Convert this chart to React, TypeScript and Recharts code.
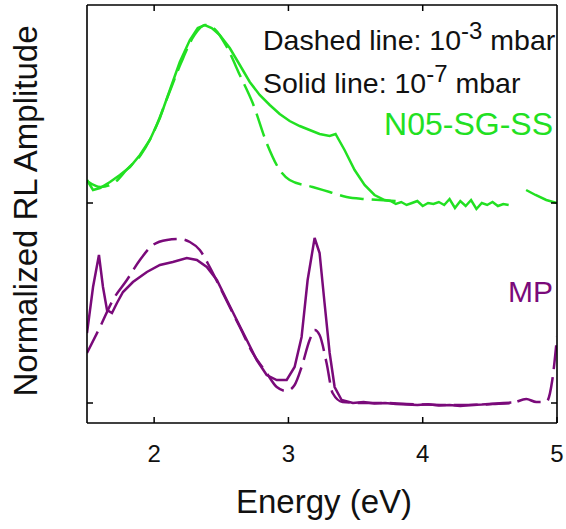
import React from 'react';
import { LineChart, Line, XAxis, YAxis } from 'recharts';

const GREEN = '#22e022';
const PURPLE = '#7a0a7a';
const FONT = "'Liberation Sans', Arial, sans-serif";

// N05-SG-SS, solid (1e-7 mbar); curve offset by +1
const n05SolidE = [1.5, 1.545, 1.597, 1.671, 1.745, 1.82, 1.894, 1.968, 2.043, 2.117, 2.191, 2.266, 2.325, 2.377, 2.429, 2.489, 2.563, 2.638, 2.712, 2.786, 2.861, 2.935, 3.009, 3.084, 3.158, 3.232, 3.307, 3.351, 3.418, 3.493, 3.567, 3.641, 3.716,
  3.76, 3.8, 3.84, 3.88, 3.92, 3.96, 4.0, 4.04, 4.08, 4.12, 4.16, 4.2, 4.24, 4.28, 4.32, 4.36, 4.4, 4.44, 4.48, 4.52, 4.56, 4.6, 4.64,
  4.7, 4.77, 4.84, 4.92, 5.0];
const n05SolidV = [1.115, 1.065, 1.075, 1.105, 1.14, 1.18, 1.24, 1.315, 1.425, 1.565, 1.705, 1.815, 1.875, 1.89, 1.875, 1.84, 1.775, 1.69, 1.605, 1.54, 1.49, 1.445, 1.41, 1.385, 1.365, 1.345, 1.335, 1.345, 1.265, 1.165, 1.09, 1.04, 1.015,
  1.01, 0.995, 1.005, 0.99, 1.0, 1.01, 0.985, 1.0, 0.995, 1.005, 0.99, 1.02, 0.975, 1.01, 0.985, 1.015, 0.97, 1.0, 0.99, 1.005, 0.985, 0.995, 0.99,
  null, 1.065, 1.04, 1.015, 1.0];

// N05-SG-SS, dashed (1e-3 mbar)
const n05DashE = [1.5, 1.6, 1.7, 1.8, 1.9, 2.0, 2.1, 2.2, 2.3, 2.38, 2.45, 2.541, 2.638, 2.734, 2.838, 2.935, 3.009, 3.18, 3.307, 3.433, 3.567, 3.678, 3.8];
const n05DashV = [1.11, 1.08, 1.1, 1.17, 1.24, 1.36, 1.53, 1.7, 1.84, 1.89, 1.87, 1.78, 1.64, 1.5, 1.3, 1.165, 1.115, 1.08, 1.055, 1.03, 1.02, 1.015, 1.01];

// MP, solid (1e-7 mbar)
const mpSolidE = [1.5, 1.545, 1.589, 1.619, 1.649, 1.686, 1.723, 1.768, 1.842, 1.946, 2.043, 2.139, 2.243, 2.318, 2.392, 2.467, 2.541, 2.615, 2.69, 2.764, 2.838, 2.913, 2.987, 3.046, 3.098, 3.143, 3.195, 3.232, 3.269, 3.307, 3.344, 3.396,
  3.48, 3.56, 3.64, 3.72, 3.8, 3.88, 3.96, 4.04, 4.12, 4.2, 4.28, 4.36, 4.44, 4.52, 4.6, 4.66];
const mpSolidV = [0.35, 0.58, 0.74, 0.58, 0.465, 0.45, 0.5, 0.555, 0.605, 0.655, 0.69, 0.705, 0.725, 0.715, 0.68, 0.615, 0.515, 0.415, 0.315, 0.215, 0.14, 0.115, 0.115, 0.18, 0.33, 0.615, 0.825, 0.75, 0.5, 0.25, 0.08, 0.015,
  0.0, 0.005, -0.003, 0.0, -0.005, -0.008, -0.01, -0.006, -0.012, -0.01, -0.015, -0.01, -0.008, -0.004, 0.0, 0.002];

// MP, dashed (1e-3 mbar)
const mpDashE = [1.5, 1.597, 1.693, 1.797, 1.894, 1.991, 2.095, 2.191, 2.266, 2.34, 2.414, 2.489, 2.563, 2.638, 2.734, 2.838, 2.913, 2.987, 3.046, 3.098, 3.158, 3.195, 3.232, 3.284, 3.329, 3.403,
  3.56, 3.72, 3.88, 4.04, 4.2, 4.36, 4.52, 4.667, 4.771, 4.846, 4.92, 4.965, 5.0];
const mpDashV = [0.25, 0.38, 0.515, 0.615, 0.715, 0.79, 0.815, 0.82, 0.805, 0.765, 0.68, 0.58, 0.48, 0.38, 0.25, 0.15, 0.08, 0.06, 0.09, 0.18, 0.315, 0.365, 0.34, 0.2, 0.05, 0.005,
  0.0, 0.0, -0.005, -0.008, -0.01, -0.01, -0.005, 0.0, 0.02, 0.005, 0.005, 0.115, 0.33];

const xTicks = [2, 3, 4, 5];
const yTicks = [0, 1];

const zip = (e: number[], v: (number | null)[]) => e.map((x, i) => ({ e: x, v: v[i] }));

const BottomTick = ({ x, y, payload }: any) => (
  <g>
    <line x1={x} y1={y} x2={x} y2={y - 6} stroke="#000" strokeWidth={1.5} />
    <text x={x} y={y + 39} textAnchor="middle" fontSize={24} fill="#111" fontFamily={FONT}>{payload.value}</text>
  </g>
);
const TopTick = ({ x, y }: any) => <line x1={x} y1={y} x2={x} y2={y + 6} stroke="#000" strokeWidth={1.5} />;
const LeftTick = ({ x, y }: any) => <line x1={x} y1={y} x2={x + 6} y2={y} stroke="#000" strokeWidth={1.5} />;
const RightTick = ({ x, y }: any) => <line x1={x} y1={y} x2={x - 6} y2={y} stroke="#000" strokeWidth={1.5} />;

export default function App() {
  const axisLine = { stroke: '#000', strokeWidth: 1.6 };
  return (
    <div style={{ position: 'absolute', left: 0, top: 0, width: 566, height: 529, background: '#fff' }}>
      <LineChart width={566} height={529} margin={{ top: 4, right: 8, bottom: 105, left: 86 }}>
        <XAxis xAxisId="b" dataKey="e" type="number" domain={[1.5, 5]} ticks={xTicks} height={1}
          tickSize={0} tickMargin={0} tickLine={false} axisLine={axisLine} tick={<BottomTick />} allowDataOverflow />
        <XAxis xAxisId="t" orientation="top" dataKey="e" type="number" domain={[1.5, 5]} ticks={[2, 3, 4]} height={1}
          tickSize={0} tickMargin={0} tickLine={false} axisLine={axisLine} tick={<TopTick />} allowDataOverflow />
        <YAxis yAxisId="l" type="number" domain={[-0.1, 1.99]} ticks={yTicks} width={1}
          tickSize={0} tickMargin={0} tickLine={false} axisLine={axisLine} tick={<LeftTick />} allowDataOverflow />
        <YAxis yAxisId="r" orientation="right" type="number" domain={[-0.1, 1.99]} ticks={yTicks} width={1}
          tickSize={0} tickMargin={0} tickLine={false} axisLine={axisLine} tick={<RightTick />} allowDataOverflow />
        <Line xAxisId="b" yAxisId="l" data={zip(n05DashE, n05DashV)} dataKey="v" type="monotone" stroke={GREEN} strokeWidth={2.5}
          strokeDasharray="24 8" dot={false} isAnimationActive={false} />
        <Line xAxisId="b" yAxisId="l" data={zip(n05SolidE, n05SolidV)} dataKey="v" type="linear" stroke={GREEN} strokeWidth={2.5}
          dot={false} isAnimationActive={false} />
        <Line xAxisId="b" yAxisId="l" data={zip(mpDashE, mpDashV)} dataKey="v" type="monotone" stroke={PURPLE} strokeWidth={2.5}
          strokeDasharray="24 8" dot={false} isAnimationActive={false} />
        <Line xAxisId="b" yAxisId="l" data={zip(mpSolidE, mpSolidV)} dataKey="v" type="linear" stroke={PURPLE} strokeWidth={2.5}
          dot={false} isAnimationActive={false} />
      </LineChart>
      <svg width={566} height={529} style={{ position: 'absolute', left: 0, top: 0, pointerEvents: 'none' }} fontFamily={FONT}>
        <text x={263} y={50} fontSize={28.5} fill="#111">
          Dashed line: 10<tspan dy={-11} fontSize={24}>-3</tspan><tspan dy={11}> mbar</tspan>
        </text>
        <text x={263} y={93} fontSize={28.5} fill="#111">
          Solid line: 10<tspan dy={-11} fontSize={24}>-7</tspan><tspan dy={11}> mbar</tspan>
        </text>
        <text x={553} y={135} fontSize={32} fill={GREEN} textAnchor="end">N05-SG-SS</text>
        <text x={553} y={302} fontSize={30} fill={PURPLE} textAnchor="end">MP</text>
        <text x={324} y={513} fontSize={33} fill="#111" textAnchor="middle">Energy (eV)</text>
        <text x={37} y={211} fontSize={33} fill="#111" textAnchor="middle" transform="rotate(-90 37 211)">Normalized RL Amplitude</text>
      </svg>
    </div>
  );
}
